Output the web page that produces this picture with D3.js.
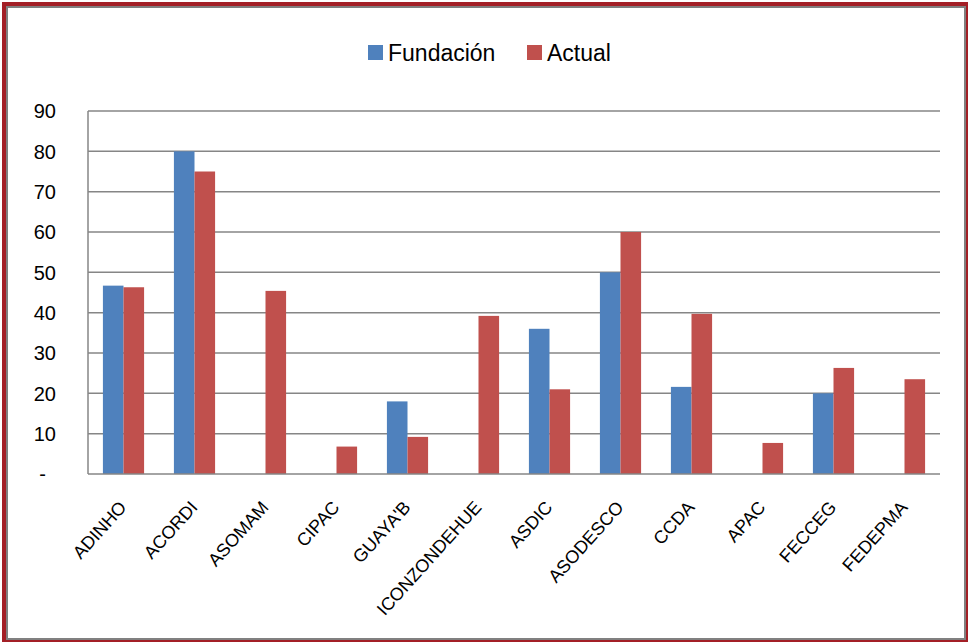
<!doctype html>
<html lang="es">
<head>
<meta charset="utf-8">
<title>Fundación vs Actual</title>
<style>
    body { margin: 0; background: #fff; }
    svg text { font-family: "Liberation Sans", Arial, sans-serif; fill: #000; }
</style>
</head>
<body>
<svg id="chart" width="970" height="644"></svg>
<script src="https://cdnjs.cloudflare.com/ajax/libs/d3/7.8.5/d3.min.js"></script>
<script>

    // data
    const categories = ["ADINHO", "ACORDI", "ASOMAM", "CIPAC", "GUAYA'B", "ICONZONDEHUE",
        "ASDIC", "ASODESCO", "CCDA", "APAC", "FECCEG", "FEDEPMA"];
    const fundacion = [46.7, 80, 0, 0, 18, 0, 36, 50, 21.6, 0, 20, 0];
    const actual = [46.3, 75, 45.4, 6.8, 9.2, 39.2, 21, 60, 39.7, 7.7, 26.3, 23.5];
    const seriesNames = ["Fundación", "Actual"];
    const yTicks = [0, 10, 20, 30, 40, 50, 60, 70, 80, 90];

    const colors = ["#4F81BD", "#C0504D"];

    let svg = d3.select("#chart");

    // frame
    svg.append("rect")
        .attr("x", 4).attr("y", 4).attr("width", 962).attr("height", 636)
        .attr("fill", "none").attr("stroke", "#A31F26").attr("stroke-width", 4);
    svg.append("rect")
        .attr("x", 7).attr("y", 7).attr("width", 958).attr("height", 632)
        .attr("fill", "none").attr("stroke", "#808080").attr("stroke-width", 2);

    let plotLeft = 88, plotRight = 940, plotTop = 111, plotBottom = 474;

    let x = d3.scaleBand()
        .domain(categories)
        .range([plotLeft, plotRight])
        .paddingInner(0.42)
        .paddingOuter(0.21);

    let xs = d3.scaleBand()
        .domain(seriesNames)
        .range([0, x.bandwidth()]);

    let y = d3.scaleLinear()
        .domain([0, 90])
        .range([plotBottom, plotTop]);

    // gridlines
    svg.append("g")
        .selectAll("line")
        .data(yTicks.filter(d => d > 0))
        .enter().append("line")
        .attr("x1", plotLeft).attr("x2", plotRight)
        .attr("y1", d => y(d)).attr("y2", d => y(d))
        .attr("stroke", "#868686")
        .attr("stroke-width", 1.5);

    // y labels
    svg.append("g")
        .selectAll("text")
        .data(yTicks)
        .enter().append("text")
        .attr("x", d => d === 0 ? 46 : 56)
        .attr("y", d => y(d))
        .attr("dy", "0.36em")
        .attr("text-anchor", "end")
        .style("font-size", "20px")
        .text(d => d === 0 ? "-" : d);

    // bars
    let rows = categories.map((c, i) => ({cat: c, vals: [fundacion[i], actual[i]]}));
    let groups = svg.append("g")
        .selectAll("g")
        .data(rows)
        .enter().append("g")
        .attr("transform", d => "translate(" + x(d.cat) + ",0)");

    groups.selectAll("rect")
        .data(d => d.vals.map((v, j) => ({name: seriesNames[j], v: v, j: j})))
        .enter().append("rect")
        .filter(d => d.v > 0)
        .attr("x", d => xs(d.name))
        .attr("width", xs.bandwidth())
        .attr("y", d => y(d.v))
        .attr("height", d => y(0) - y(d.v))
        .attr("fill", d => colors[d.j]);

    // axis lines
    svg.append("line")
        .attr("x1", plotLeft).attr("x2", plotLeft).attr("y1", plotTop).attr("y2", plotBottom)
        .attr("stroke", "#868686").attr("stroke-width", 1.5);
    svg.append("line")
        .attr("x1", plotLeft).attr("x2", plotRight).attr("y1", plotBottom).attr("y2", plotBottom)
        .attr("stroke", "#868686").attr("stroke-width", 1.5);

    // x labels
    svg.append("g")
        .selectAll("text")
        .data(categories)
        .enter().append("text")
        .attr("text-anchor", "end")
        .attr("transform", d => "translate(" + (x(d) + x.bandwidth() / 2 + 4) + ",508) rotate(-48)")
        .style("font-size", "18px")
        .text(d => d);

    // legend
    let legend = svg.append("g");
    let legendX = [368, 527];
    seriesNames.forEach((name, i) => {
        legend.append("rect")
            .attr("x", legendX[i]).attr("y", 45)
            .attr("width", 15).attr("height", 15)
            .attr("fill", colors[i]);
        legend.append("text")
            .attr("x", legendX[i] + 20).attr("y", 61)
            .style("font-size", "23px")
            .text(name);
    });

</script>
</body>
</html>
